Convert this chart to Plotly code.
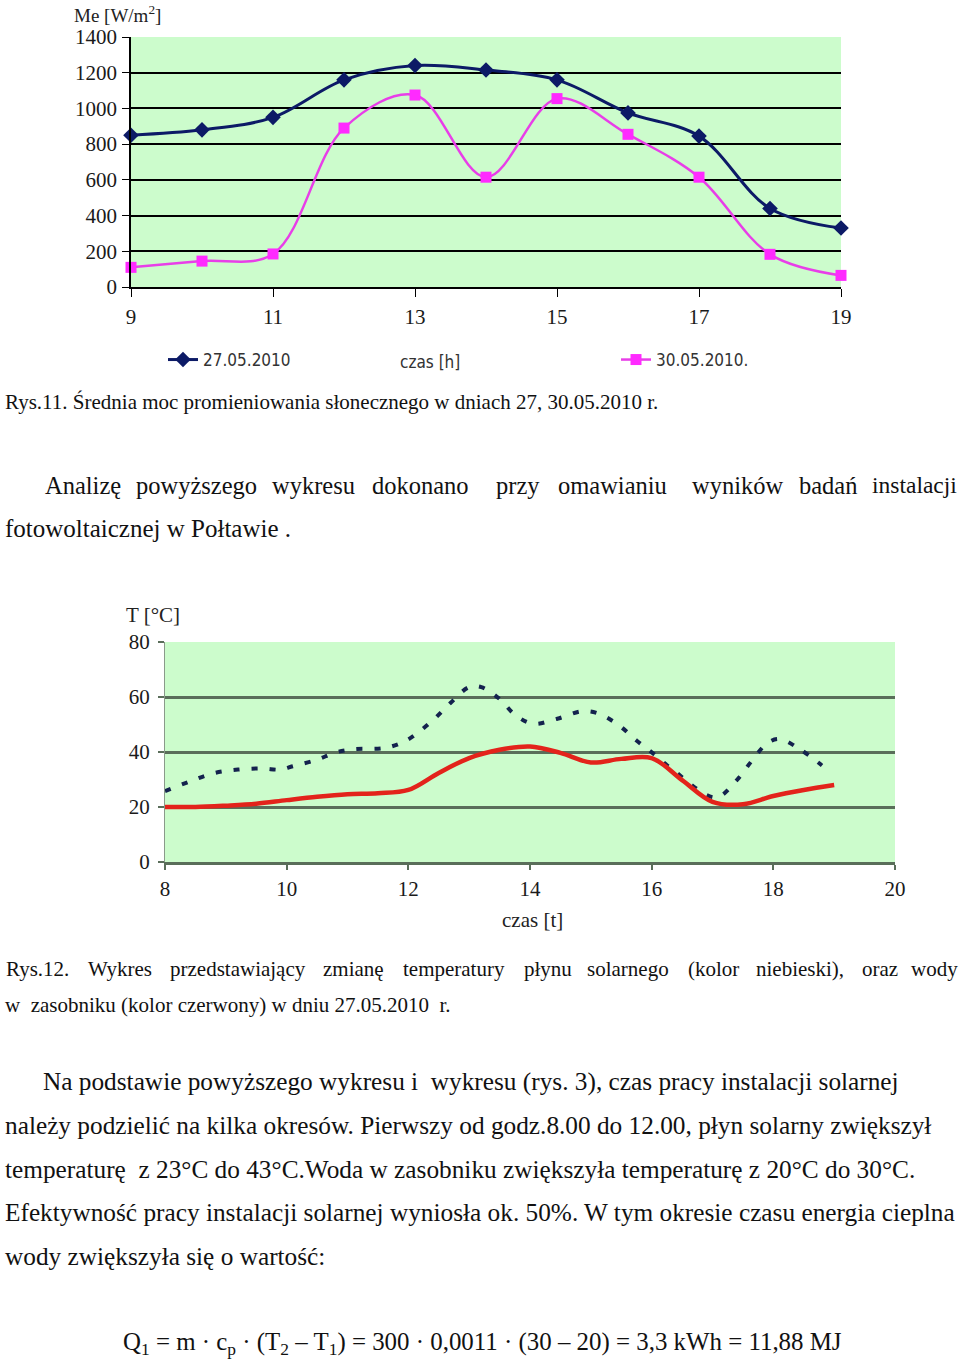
import plotly.graph_objects as go

# ---------------- data ----------------
hours = [9, 10, 11, 12, 13, 14, 15, 16, 17, 18, 19]
irr_27 = [850, 880, 950, 1160, 1240, 1215, 1160, 975, 845, 440, 330]
irr_30 = [110, 145, 185, 890, 1075, 615, 1055, 855, 615, 183, 65]
irr_xticks = [9, 11, 13, 15, 17, 19]
irr_yticks = [0, 200, 400, 600, 800, 1000, 1200, 1400]

t_fluid = [8.0, 8.4, 8.8, 9.2, 9.6, 9.9, 10.1, 10.5, 10.8, 11.1, 11.6, 11.85, 12.05, 12.4,
           12.7, 13.0, 13.2, 13.5, 13.75, 14.05, 14.45, 14.85, 15.1, 15.45, 15.75, 16.05,
           16.35, 17.05, 17.4, 17.65, 17.9, 18.1, 18.45, 18.8]
temp_fluid = [25.8, 29.2, 32.3, 33.6, 34.0, 33.6, 34.8, 37.2, 39.8, 41.0, 41.4, 43.0, 45.3, 51.5,
              58.0, 63.6, 63.6, 59.3, 53.6, 50.3, 52.1, 54.8, 54.2, 49.9, 44.2, 39.0,
              33.5, 23.5, 29.8, 36.9, 43.2, 44.7, 40.8, 35.1]
t_tank = [8, 8.5, 9, 9.5, 10, 10.5, 11, 11.5, 12, 12.5, 13, 13.5, 14, 14.5, 15, 15.5, 16,
          16.5, 17, 17.5, 18, 18.5, 19]
temp_tank = [20, 20, 20.5, 21.2, 22.5, 23.7, 24.6, 25.0, 26.2, 32.4, 37.8, 40.8, 42.0, 39.7,
             36.2, 37.5, 37.8, 29.8, 21.9, 21.0, 24.0, 26.2, 28.0]
temp_xticks = [8, 10, 12, 14, 16, 18, 20]
temp_yticks = [0, 20, 40, 60, 80]

# ---------------- helpers ----------------
W, H = 960, 1361
def fx(px):
    return px / W
def fy(py):
    return 1 - py / H

SERIF = "Liberation Serif, Times New Roman, serif"
NARROW = "Liberation Sans Narrow, Arial Narrow, DejaVu Sans Condensed, sans-serif"

fig = go.Figure()

# chart 1
fig.add_trace(go.Scatter(
    x=hours, y=irr_27, mode="lines+markers", name="27.05.2010",
    line=dict(color="#0c1a66", width=3, shape="spline"),
    marker=dict(symbol="diamond", size=12, color="#0c1a66"),
    cliponaxis=False, xaxis="x", yaxis="y", legend="legend"))
fig.add_trace(go.Scatter(
    x=hours, y=irr_30, mode="lines+markers", name="30.05.2010.",
    line=dict(color="#e83ee8", width=2.5, shape="spline"),
    marker=dict(symbol="square", size=11, color="#ff2aff"),
    cliponaxis=False, xaxis="x", yaxis="y", legend="legend2"))

# chart 2
fig.add_trace(go.Scatter(
    x=t_fluid, y=temp_fluid, mode="lines", showlegend=False,
    line=dict(color="#14224e", width=4, dash="6px,12px", shape="spline"),
    xaxis="x2", yaxis="y2"))
fig.add_trace(go.Scatter(
    x=t_tank, y=temp_tank, mode="lines", showlegend=False,
    line=dict(color="#e3231b", width=4.5, shape="spline"),
    xaxis="x2", yaxis="y2"))

tickfont = dict(family=SERIF, size=21, color="#1a1a1a")

fig.update_layout(
    template="plotly",
    width=W, height=H,
    margin=dict(l=0, r=0, t=0, b=0, pad=0, autoexpand=False),
    paper_bgcolor="white",
    plot_bgcolor="#ccfccc",
    xaxis=dict(domain=[fx(131), fx(841)], range=[9, 19], anchor="y", automargin=False,
               tickvals=irr_xticks, ticks="outside", ticklen=8, tickcolor="black",
               showline=True, linecolor="black", linewidth=1.5, showgrid=False,
               zeroline=False, tickfont=tickfont, ticklabelstandoff=2),
    yaxis=dict(domain=[fy(287), fy(37)], range=[0, 1400], anchor="x", automargin=False,
               tickvals=irr_yticks, ticks="outside", ticklen=7, tickcolor="black",
               showline=True, linecolor="black", linewidth=1.5,
               showgrid=True, gridcolor="black", gridwidth=1.5,
               zeroline=False, tickfont=tickfont, ticklabelstandoff=1),
    xaxis2=dict(domain=[fx(165), fx(895)], range=[8, 20], anchor="y2", automargin=False,
                tickvals=temp_xticks, ticks="outside", ticklen=5, tickcolor="#5a6e5a",
                tickwidth=2, showline=True, linecolor="#5a6e5a", linewidth=2.5,
                showgrid=False, zeroline=False, tickfont=tickfont, ticklabelstandoff=1),
    yaxis2=dict(domain=[fy(862), fy(642)], range=[0, 80], anchor="x2", automargin=False,
                tickvals=temp_yticks, ticks="outside", ticklen=6, tickcolor="#5a6e5a",
                tickwidth=2, showline=True, linecolor="#8a9a8a", linewidth=1,
                showgrid=True, gridcolor="#5a6e5a", gridwidth=2.5,
                zeroline=False, tickfont=tickfont, ticklabelstandoff=4),
    legend=dict(x=fx(163), y=fy(360), xanchor="left", yanchor="middle",
                orientation="h", bgcolor="rgba(0,0,0,0)",
                font=dict(family=NARROW, size=17, color="#333")),
    legend2=dict(x=fx(616), y=fy(360), xanchor="left", yanchor="middle",
                 orientation="h", bgcolor="rgba(0,0,0,0)",
                 font=dict(family=NARROW, size=17, color="#333")),
)

ann = []
def text(t, x, y, size, family=SERIF, anchor="left", color="#111"):
    ann.append(dict(text=t, x=fx(x), y=fy(y), xref="paper", yref="paper",
                    xanchor=anchor, yanchor="middle", showarrow=False,
                    font=dict(family=family, size=size, color=color)))

# chart labels
text("Me [W/m<sup>2</sup>]", 72, 14, 19, family=SERIF, color="#222")
text("czas [h]", 398, 362, 17, family=NARROW, color="#333")
text("T [°C]", 124, 615, 21, family=SERIF, color="#222")
text("czas [t]", 532, 920, 21, family=SERIF, anchor="center", color="#222")

# caption 11
text("Rys.11. Średnia moc promieniowania słonecznego w dniach 27, 30.05.2010 r.", 3, 402, 21)

# justified paragraph line
words1 = [("Analizę", 43), ("powyższego", 134), ("wykresu", 270), ("dokonano", 370),
          ("przy", 494), ("omawianiu", 556), ("wyników", 690), ("badań", 797),
          ("instalacji", 870)]
for w, x in words1:
    text(w, x, 485, 24.5 if w != "instalacji" else 23.5)
text("fotowoltaicznej w Połtawie .", 3, 528, 25)

# caption 12
words2 = [("Rys.12.", 4), ("Wykres", 86), ("przedstawiający", 168), ("zmianę", 321),
          ("temperatury", 401), ("płynu", 522), ("solarnego", 585), ("(kolor", 686),
          ("niebieski),", 754), ("oraz", 860), ("wody", 909)]
for w, x in words2:
    text(w, x, 969, 21)
text("w  zasobniku (kolor czerwony) w dniu 27.05.2010  r.", 3, 1005, 21)

# paragraph
text("Na podstawie powyższego wykresu i  wykresu (rys. 3), czas pracy instalacji solarnej", 41, 1081, 25.3)
text("należy podzielić na kilka okresów. Pierwszy od godz.8.00 do 12.00, płyn solarny zwiększył", 3, 1125, 25.3)
text("temperaturę  z 23°C do 43°C.Woda w zasobniku zwiększyła temperaturę z 20°C do 30°C.", 3, 1169, 25.3)
text("Efektywność pracy instalacji solarnej wyniosła ok. 50%. W tym okresie czasu energia cieplna", 3, 1212, 25.3)
text("wody zwiększyła się o wartość:", 3, 1256, 25.3)

text("Q<sub>1</sub> = m · c<sub>p</sub> · (T<sub>2</sub> – T<sub>1</sub>) = 300 · 0,0011 · (30 – 20) = 3,3 kWh = 11,88 MJ",
     121, 1343, 24.9)

fig.update_layout(annotations=ann)

fig.write_html("out.html",
               config={"displayModeBar": False},
               post_script="document.body.style.margin='0';document.body.style.overflow='hidden';")
